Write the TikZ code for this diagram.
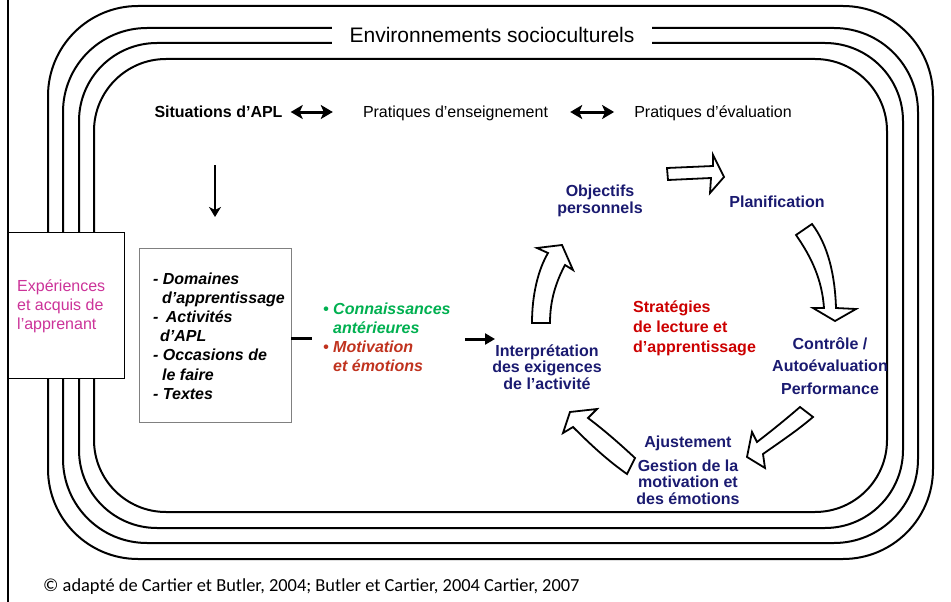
\documentclass[tikz,border=0pt]{standalone}
\usepackage{fontspec}
\setmainfont{Liberation Sans}
\newfontfamily\calib{Carlito}
\usetikzlibrary{arrows.meta}
\definecolor{navyc}{RGB}{26,26,112}
\definecolor{stratc}{RGB}{204,0,0}
\definecolor{greenc}{RGB}{0,176,80}
\definecolor{motivc}{RGB}{192,50,30}
\definecolor{magentc}{RGB}{204,51,153}
\begin{document}
\begin{tikzpicture}[x=1pt,y=-1pt,
  ring/.style={line width=2pt, rounded corners=#1},
  txt/.style={inner sep=0pt, font=\fontsize{16}{16.5}\selectfont},
  cyc/.style={inner sep=0pt, text=navyc, align=center, font=\fontsize{16}{16.5}\selectfont\bfseries},
  blk/.style={draw=black, fill=white, line width=1.8pt},
  dbl/.style={line width=3pt, {Stealth[length=12pt,width=14pt,inset=3pt]}-{Stealth[length=12pt,width=14pt,inset=3pt]}},
  thickline/.style={line width=3pt}
]
\useasboundingbox (0,0) rectangle (951,602);
% outer left line
\coordinate (ltop) at (8,0);
\coordinate (lbot) at (8,602);
\draw[line width=2pt] (ltop) -- (lbot);
% rings
\draw[ring=90pt] (48,6) rectangle (933,559);
\draw[ring=84pt] (63,28) rectangle (918,543);
\draw[ring=78pt] (79,43) rectangle (903,528);
\draw[ring=72pt] (94,59) rectangle (887,512);
% title
\node[fill=white, minimum width=320pt, minimum height=26pt, inner sep=0pt,
      font=\fontsize{21}{21}\selectfont] (title) at (492,35) {Environnements socioculturels};
% experiences box
\node[draw, line width=0.8pt, fill=white, minimum width=116pt, minimum height=146pt, inner sep=0pt] (exp) at (66,305) {};
\node[txt, anchor=west, text=magentc, align=left, font=\fontsize{16}{19}\selectfont] (exptxt) at (17,306) {Expériences\\et acquis de\\l’apprenant};
% top row
\node[txt, font=\fontsize{16}{16.5}\selectfont\bfseries] (sit) at (218.5,112) {Situations d’APL};
\node[txt] (ens) at (455.5,113) {Pratiques d’enseignement};
\node[txt] (eva) at (713,113) {Pratiques d’évaluation};
\draw[dbl] ([xshift=8pt]sit.east |- 0,112) -- ([xshift=-30pt]ens.west |- 0,112);
\draw[dbl] ([xshift=22pt]ens.east |- 0,112) -- ([xshift=-20pt]eva.west |- 0,112);
% down arrow
\coordinate (dtop) at (215,165);
\coordinate (dbot) at (215,217);
\draw[line width=2.2pt, -{Stealth[length=10pt,width=12pt,inset=3pt]}] (dtop) -- (dbot);
% domains box
\node[draw=gray, line width=0.8pt, minimum width=152pt, minimum height=174pt, inner sep=0pt] (dom) at (215,335) {};
\node[txt, align=left, font=\fontsize{16}{19.2}\selectfont\bfseries\itshape] (domtxt) at (219,336)
 {- Domaines\\\hspace*{9pt}d’apprentissage\\-\hspace*{3pt} Activités\\\hspace*{7pt}d’APL\\- Occasions de\\\hspace*{9pt}le faire\\- Textes};
% connector to prior knowledge
\coordinate (c1) at (312,338);
\draw[thickline] (dom.east |- c1) -- (c1);
\node[txt, anchor=west, align=left, font=\fontsize{16}{19}\selectfont\bfseries\itshape] (know) at (323,337)
 {\textcolor{greenc}{• Connaissances}\\\hspace*{10pt}\textcolor{greenc}{antérieures}\\\textcolor{motivc}{• Motivation}\\\hspace*{10pt}\textcolor{motivc}{et émotions}};
\coordinate (a1) at (465,339);
\coordinate (a2) at (495,339);
\draw[thickline, -{Triangle[length=10pt,width=11pt]}] (a1) -- (a2);
% cycle texts
\node[cyc] (interp) at (547,367) {Interprétation\\des exigences\\de l’activité};
\node[cyc] (obj) at (600,201) {Objectifs\\personnels};
\node[cyc] (plan) at (777,202) {Planification};
\node[cyc, font=\fontsize{16}{22.5}\selectfont\bfseries] (ctrl) at (830,366) {Contrôle /\\Autoévaluation\\Performance};
\node[cyc] (ajust) at (688,443) {Ajustement};
\node[cyc] (gest) at (688,482) {Gestion de la\\motivation et\\des émotions};
\node[txt, anchor=west, align=left, text=stratc, font=\fontsize{16}{20}\selectfont\bfseries] (strat) at (633,328) {Stratégies\\de lecture et\\d’apprentissage};
% block arrows
\draw[blk] (667,168) -- (713,166) -- (713,155) -- (724,177) -- (710,193) -- (711,178) -- (668,180) -- cycle;
\draw[blk] (796,235) .. controls (812,258) and (822,280) .. (824,308) -- (813,308) -- (835,321) -- (856,309) -- (836,308) .. controls (835,275) and (828,245) .. (812,224) -- cycle;
\draw[blk] (800,407) .. controls (785,420) and (770,432) .. (757,442) -- (752,432) -- (747,457) -- (765,468) -- (763,454) .. controls (780,442) and (798,430) .. (813,417) -- cycle;
\draw[blk] (635,458) .. controls (620,444) and (604,430) .. (588,418) -- (597,409) -- (570,412) -- (563,433) -- (573,427) .. controls (590,444) and (607,460) .. (627,474) -- cycle;
\draw[blk] (532,323) .. controls (532,295) and (538,270) .. (548,253) -- (537,248) -- (562,245) -- (573,270) -- (565,265) .. controls (556,282) and (550,300) .. (550,323) -- cycle;
% footer
\node[inner sep=0pt, anchor=west, font=\calib\fontsize{18.4}{18.4}\selectfont] (foot) at (43,587) {© adapté de Cartier et Butler, 2004; Butler et Cartier, 2004 Cartier, 2007};
\end{tikzpicture}
\end{document}
